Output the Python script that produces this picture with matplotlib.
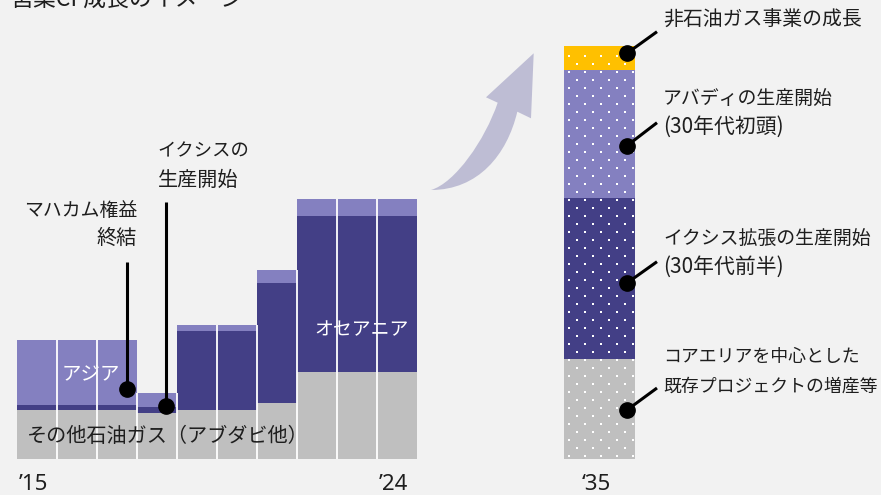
import numpy as np
import matplotlib
matplotlib.use("Agg")
import matplotlib.pyplot as plt
from matplotlib.path import Path
from matplotlib.patches import PathPatch

plt.rcParams['font.family'] = ['Noto Sans CJK JP', 'DejaVu Sans']

# ---------------- data (arbitrary production index units) ----------------
years = ["2015", "2016", "2017", "2018", "2019", "2020", "2021", "2022", "2023", "2024"]
year_labels = ["’15", "", "", "", "", "", "", "", "", "’24"]
other_oil_gas = [49, 49, 49, 46, 49, 49, 56, 87, 87, 87]   # その他石油ガス（アブダビ他）
oceania = [5, 5, 5, 6, 79, 79, 120, 156, 156, 156]          # オセアニア
asia = [65, 65, 65, 14, 6, 6, 13, 17, 17, 17]               # アジア

future_label = "‘35"
future_segments = ["既存プロジェクトの増産等", "イクシス拡張", "アバディ", "非石油ガス事業"]
future_values = [100, 161, 128, 24]

# ---------------- style ----------------
BG = "#f2f2f2"
GRAY = "#bfbfbf"
DARK = "#433f86"
LIGHT = "#8480c0"
YELLOW = "#ffc000"
ARROW = "#bebdd4"
TXT = "#1e1e1e"

W, H = 881, 495
fig = plt.figure(figsize=(W / 100, H / 100), dpi=100, facecolor=BG)

def rect(x0, y0, x1, y1):
    # pixel box (top-left origin) -> figure fraction
    return [x0 / W, 1 - y1 / H, (x1 - x0) / W, (y1 - y0) / H]

# ---------------- historical bars ----------------
ax1 = fig.add_axes(rect(17, 0, 417, 459))
ax1.set_xlim(-0.5, len(years) - 0.5)
ax1.set_ylim(0, 459)
ax1.set_axis_off()
x = np.arange(len(years))
o = np.array(other_oil_gas)
oc = np.array(oceania)
a = np.array(asia)
ax1.bar(x, o, width=1.0, color=GRAY, linewidth=0)
ax1.bar(x, oc, bottom=o, width=1.0, color=DARK, linewidth=0)
ax1.bar(x, a, bottom=o + oc, width=1.0, color=LIGHT, linewidth=0)
tot = o + oc + a
ax1.vlines(x[:-1] + 0.5, 0, np.minimum(tot[:-1], tot[1:]), color="white", lw=1.3)
for xi, lab in zip(x, year_labels):
    if lab:
        ax1.text(xi - 0.08, -25, lab, ha="center", va="center", fontsize=16,
                 family=["Noto Sans", "DejaVu Sans"], color=TXT, clip_on=False)

# ---------------- 2035 bar ----------------
ax2 = fig.add_axes(rect(564, 0, 635, 459))
ax2.set_xlim(-0.5, 0.5)
ax2.set_ylim(0, 459)
ax2.set_axis_off()
fcolors = [GRAY, DARK, LIGHT, YELLOW]
bottom = 0
for v, c in zip(future_values, fcolors):
    ax2.bar(0, v, bottom=bottom, width=1.0, color=c, linewidth=0)
    bottom += v
ftotal = bottom
# dotted texture (white dots in staggered grid)
bar_px = 71.0
rows = np.arange(3.5, ftotal - 2, 8.0)
dx, dy = [], []
for k, ry in enumerate(rows):
    start = 4.7 if k % 2 == 0 else 12.7
    cols = np.arange(start, bar_px - 2, 16.0)
    dx.extend(-0.5 + cols / bar_px)
    dy.extend([ry] * len(cols))
ax2.scatter(dx, dy, s=2.3, marker="s", color="white", linewidths=0, zorder=3)
ax2.text(-0.05, -25, future_label, ha="center", va="center", fontsize=16,
         family=["Noto Sans", "DejaVu Sans"], color=TXT, clip_on=False)

# ---------------- overlay for annotations (pixel coords) ----------------
ov = fig.add_axes([0, 0, 1, 1], zorder=5)
ov.set_xlim(0, W)
ov.set_ylim(H, 0)
ov.set_axis_off()
ov.patch.set_alpha(0)

# curved arrow
verts = [(431, 190), (455, 183), (485, 140), (497.7, 102.7),
         (486, 97.3), (533.7, 53.3), (531, 118.3), (517.3, 111.7),
         (507, 155), (478, 190), (431, 190), (431, 190)]
codes = [Path.MOVETO, Path.CURVE4, Path.CURVE4, Path.CURVE4,
         Path.LINETO, Path.LINETO, Path.LINETO, Path.LINETO,
         Path.CURVE4, Path.CURVE4, Path.CURVE4, Path.CLOSEPOLY]
ov.add_patch(PathPatch(Path(verts, codes), facecolor=ARROW, edgecolor="none"))

# title (partially cut at top)
ov.text(11, 0, "営業CF成長のイメージ", ha="left", va="center", fontsize=16.5, color=TXT)

def label(xp, yp, s, fs, ha="left", color=TXT):
    ov.text(xp, yp, s, ha=ha, va="center", fontsize=fs, color=color)

# left annotations
label(137, 210.7, "マハカム権益", 13.6, ha="right")
label(137, 238, "終結", 14.5, ha="right")
ov.plot([127, 127], [261.7, 389.3], color="black", lw=2.2, solid_capstyle="butt")
ov.plot(127, 389.3, "o", color="black", ms=11)

label(157.5, 151.7, "イクシスの", 13.2)
label(157.5, 180, "生産開始", 14.5)
ov.plot([166, 166], [202, 405.5], color="black", lw=2.2, solid_capstyle="butt")
ov.plot(166, 405.5, "o", color="black", ms=11)

label(91, 375, "アジア", 14, ha="center", color="white")
label(361.5, 330, "オセアニア", 13.6, ha="center", color="white")
label(27, 436.7, "その他石油ガス（アブダビ他）", 14.5)

# right annotations
right_lines = [
    ([("非石油ガス事業の成長", 14.3)], [19], 53.3, 31.7),
    ([("アバディの生産開始", 13.6), ("(30年代初頭)", 15)], [98, 127], 145.7, 122.7),
    ([("イクシス拡張の生産開始", 13.6), ("(30年代前半)", 15)], [238, 267], 283, 261.7),
    ([("コアエリアを中心とした", 12.9), ("既存プロジェクトの増産等", 12.9)], [356.7, 386.7], 410, 388),
]
for lines, ys, ydot, yend in right_lines:
    for (t, fs), yy in zip(lines, ys):
        label(663, yy, t, fs)
    ov.plot([627, 657], [ydot, yend], color="black", lw=2.2, solid_capstyle="butt")
    ov.plot(627, ydot, "o", color="black", ms=11)

fig.savefig("out.png", dpi=100, facecolor=BG)
